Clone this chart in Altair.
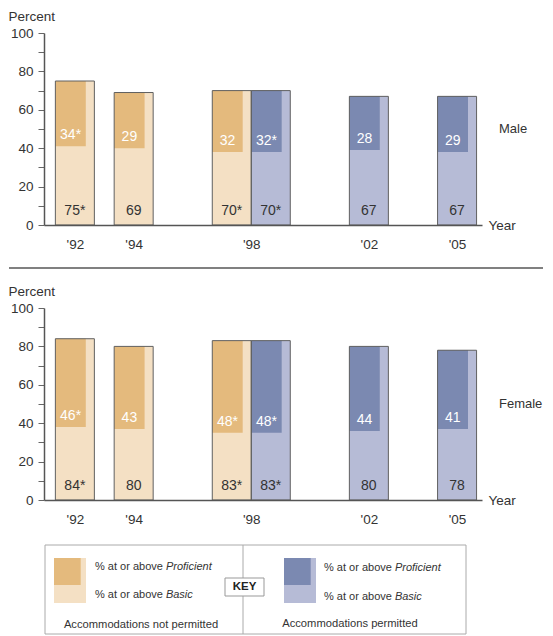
import altair as alt
import numpy as np
import pandas as pd

# ---------------- data ----------------
years = [1992, 1994, 1998, 1998, 2002, 2005]
accommodations = ["Not permitted", "Not permitted", "Not permitted",
                  "Permitted", "Permitted", "Permitted"]

male_basic = [75, 69, 70, 70, 67, 67]
male_basic_sig = [True, False, True, True, False, False]
male_proficient = [34, 29, 32, 32, 28, 29]
male_proficient_sig = [True, False, False, True, False, False]

female_basic = [84, 80, 83, 83, 80, 78]
female_basic_sig = [True, False, True, True, False, False]
female_proficient = [46, 43, 48, 48, 44, 41]
female_proficient_sig = [True, False, True, True, False, False]

year_ticks = [1992, 1994, 1998, 2002, 2005]
percent_ticks = list(range(0, 101, 10))

key_prefix = "% at or above "
key_levels = ["Proficient", "Basic"]
key_groups = ["Accommodations not permitted", "Accommodations permitted"]
key_title = "KEY"

# ---------------- style / layout ----------------
FONT = "Liberation Sans"
TXT = "#333333"
LIGHT = ["#F4E0C4", "#B6BBD6"]
DARK = ["#E4BA7D", "#7B89B1"]
PX_YR = 29.4
BAR = 39 / PX_YR      # bar width in years
DARK_FRAC = 0.78      # share of bar width for the darker Proficient part
W, H = 438, 192
X_MIN = 1990.95

XS = alt.Scale(domain=[X_MIN, X_MIN + W / PX_YR], nice=False, zero=False)
YS = alt.Scale(domain=[0, 100], nice=False, zero=True)
light_scale = alt.Scale(domain=["Not permitted", "Permitted"], range=LIGHT)
dark_scale = alt.Scale(domain=["Not permitted", "Permitted"], range=DARK)


def build(basic, bsig, prof, psig):
    df = pd.DataFrame({"year": years, "acc": accommodations,
                       "basic": basic, "prof": prof})
    df["basic_label"] = [f"{v}{'*' if s else ''}" for v, s in zip(basic, bsig)]
    df["prof_label"] = [f"{v}{'*' if s else ''}" for v, s in zip(prof, psig)]
    n = df.groupby("year")["year"].transform("size")
    first = ~df.duplicated("year")
    df["x0"] = np.where(n == 1, df["year"] - BAR / 2,
                        np.where(first, df["year"] - BAR, df["year"]))
    df["x1"] = df["x0"] + BAR
    df["xd"] = df["x0"] + BAR * DARK_FRAC
    df["xc"] = df["x0"] + BAR / 2
    df["xdc"] = df["x0"] + BAR * DARK_FRAC / 2
    df["prof_lo"] = df["basic"] - df["prof"]
    return df


xaxis = alt.Axis(values=year_ticks, format="d",
                 labelExpr="\"'\" + substring(datum.label, 2)",
                 ticks=False, tickSize=0, labelPadding=12,
                 labelFontSize=13.5, labelColor=TXT, labelFont=FONT,
                 labelFlush=False, labelOverlap=False,
                 domainColor="#555555", domainWidth=1.5, grid=False,
                 title="Year", titleX=W + 6, titleY=0, titleAlign="left",
                 titleBaseline="middle", titleAngle=0, titleFontSize=13.5,
                 titleFontWeight="normal", titleColor=TXT, titleFont=FONT,
                 zindex=1)

yaxis = alt.Axis(values=percent_ticks,
                 labelExpr="datum.value % 20 === 0 ? datum.label : ''",
                 tickSize=6, tickColor="#666666", labelPadding=5,
                 labelFontSize=13.5, labelColor=TXT, labelFont=FONT,
                 labelFlush=False, labelOverlap=False,
                 domainColor="#555555", domainWidth=1.5, grid=False,
                 title="Percent", titleAngle=0, titleAlign="left",
                 titleBaseline="middle", titleX=-36, titleY=-17,
                 titleFontSize=13.5, titleFontWeight="normal",
                 titleColor=TXT, titleFont=FONT, zindex=1)

one = pd.DataFrame({"k": [0]})
no_frame = alt.ViewBackground(stroke="transparent", strokeWidth=0)


def ktext(text, x, y, **kw):
    style = dict(align="left", baseline="middle", fontSize=11, color=TXT, font=FONT)
    style.update(kw)
    return alt.Chart(pd.DataFrame({"t": [text]})).mark_text(**style).encode(
        x=alt.value(x), y=alt.value(y), text="t:N")


def krect(x, x2, y, y2, **kw):
    return alt.Chart(one).mark_rect(**kw).encode(
        x=alt.value(x), x2=alt.value(x2), y=alt.value(y), y2=alt.value(y2))


def panel(df, sex_label, extra=()):
    base = alt.Chart(df)
    X = lambda f: alt.X(f, scale=XS, axis=xaxis)
    Y = lambda f: alt.Y(f, scale=YS, axis=yaxis)
    light = base.mark_rect(strokeWidth=0).encode(
        x=X("x0:Q"), x2="x1:Q", y=Y("basic:Q"), y2=alt.datum(0),
        color=alt.Color("acc:N", scale=light_scale, legend=None))
    dark = base.mark_rect(strokeWidth=0).encode(
        x=X("x0:Q"), x2="xd:Q", y=Y("basic:Q"), y2="prof_lo:Q",
        color=alt.Color("acc:N", scale=dark_scale, legend=None))
    outline = base.mark_rect(fill="transparent", stroke="#606060", strokeWidth=1).encode(
        x=X("x0:Q"), x2="x1:Q", y=Y("basic:Q"), y2=alt.datum(0))
    basic_txt = base.mark_text(baseline="alphabetic", dy=-10, fontSize=14,
                               color=TXT, font=FONT).encode(
        x=X("xc:Q"), y=alt.YDatum(0, scale=YS, axis=yaxis), text="basic_label:N")
    prof_txt = base.mark_text(baseline="alphabetic", dy=-7, fontSize=14,
                              color="white", font=FONT).encode(
        x=X("xdc:Q"), y=Y("prof_lo:Q"), text="prof_label:N")
    sex = alt.Chart(pd.DataFrame({"t": [sex_label]})).mark_text(
        align="left", baseline="middle", fontSize=13, color=TXT, font=FONT).encode(
        x=alt.value(455), y=alt.YDatum(50, scale=YS, axis=yaxis), text="t:N")
    layers = [light, dark, outline, basic_txt, prof_txt, sex] + list(extra)
    return alt.layer(*layers).resolve_scale(color="independent").properties(
        width=W, height=H, view=no_frame)


male_df = build(male_basic, male_basic_sig, male_proficient, male_proficient_sig)
female_df = build(female_basic, female_basic_sig, female_proficient, female_proficient_sig)

anchor = alt.Chart(one).mark_rule(strokeOpacity=0, strokeWidth=0).encode(
    x=alt.value(0), x2=alt.value(1), y=alt.value(-24.5), y2=alt.value(-24.5))

separator = alt.Chart(one).mark_rule(color="#808080", strokeWidth=2).encode(
    x=alt.value(-35), x2=alt.value(499), y=alt.value(-40))

# key (positions relative to the female plot area)
key_layers = [
    krect(1, 422, 237, 326, fill="transparent", stroke="#aaaaaa", strokeWidth=1),
    alt.Chart(one).mark_rule(color="#aaaaaa", strokeWidth=1).encode(
        x=alt.value(199), y=alt.value(237), y2=alt.value(326)),
    krect(181, 220, 270, 288, fill="white", stroke="#999999", strokeWidth=1),
    ktext(key_title, 200.5, 279, align="center", fontWeight="bold", fontSize=11.5,
          color="#222222"),
    krect(10, 42, 250, 295, fill=LIGHT[0]),
    krect(10, 36.7, 250, 277, fill=DARK[0]),
    krect(240, 272, 250, 295, fill=LIGHT[1]),
    krect(240, 266.7, 250, 277, fill=DARK[1]),
    ktext(key_prefix, 51, 258.5),
    ktext(key_levels[0], 121.9, 258.5, fontStyle="italic"),
    ktext(key_prefix, 51, 286.5),
    ktext(key_levels[1], 121.9, 286.5, fontStyle="italic"),
    ktext(key_prefix, 280, 260),
    ktext(key_levels[0], 350.9, 260, fontStyle="italic"),
    ktext(key_prefix, 280, 288.5),
    ktext(key_levels[1], 350.9, 288.5, fontStyle="italic"),
    ktext(key_groups[0], 97, 317, align="center", fontSize=11.2),
    ktext(key_groups[1], 306, 316, align="center", fontSize=11.2),
]

male = panel(male_df, "Male", [anchor])
female = panel(female_df, "Female", [separator] + key_layers)

chart = alt.vconcat(male, female, spacing=83, bounds="flush").properties(
    padding=0
).configure(font=FONT).configure_view(strokeWidth=0, stroke="transparent")

chart.save("out.html", embed_options={"renderer": "svg", "actions": False})
